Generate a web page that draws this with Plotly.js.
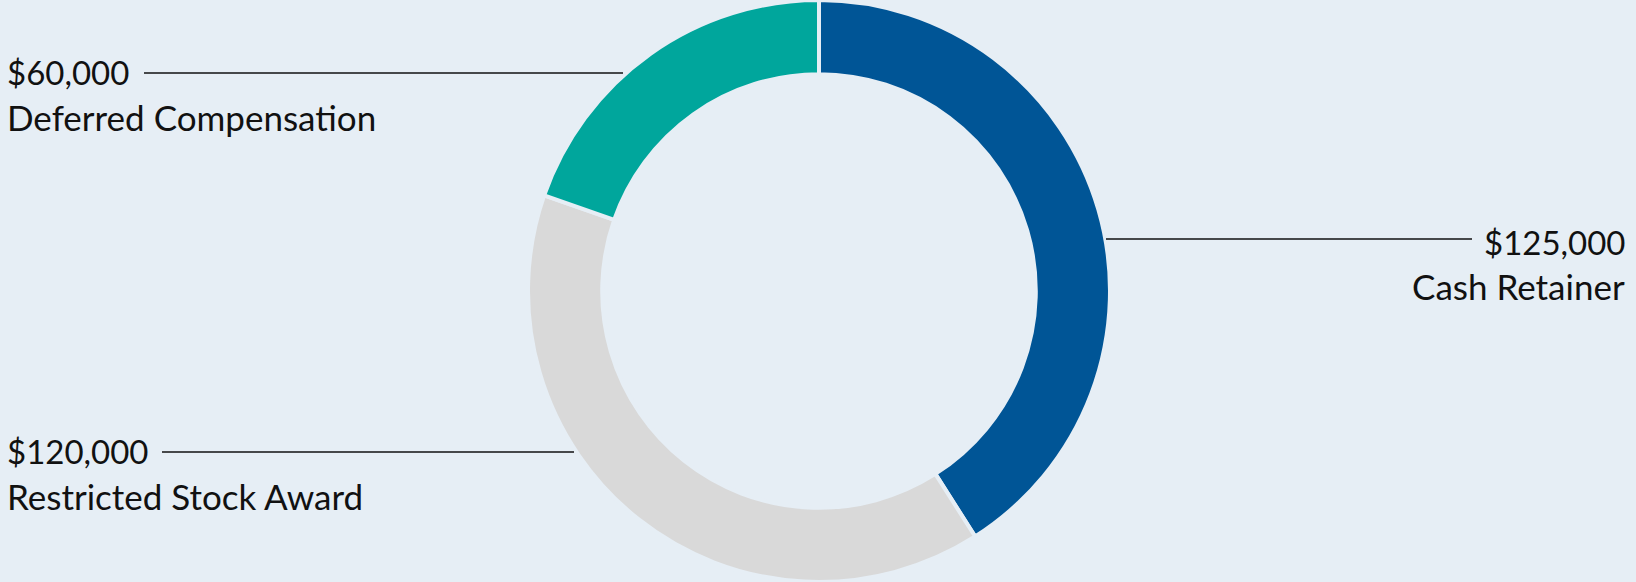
<!DOCTYPE html>
<html>
<head>
<meta charset="utf-8">
<script src="https://cdn.plot.ly/plotly-3.0.1.min.js"></script>
<style>html,body{margin:0;padding:0;background:#e6eef5;}#chart{width:1636px;height:582px;}</style>
</head>
<body>
<div id="chart"></div>
<script>
const categories = ["Cash Retainer", "Restricted Stock Award", "Deferred Compensation"];
const values = [125000, 120000, 60000];
const colors = ["#005596", "#d9d9d9", "#00a69c"];

const W = 1636, H = 582;
const fmt = v => "$" + v.toLocaleString("en-US");
const BG = "#e6eef5";
const LABEL_FONT = {family: "Lato, 'Noto Sans', sans-serif", size: 35, color: "#111111"};
const VALUE_FONT = {family: "Lato, 'Noto Sans', sans-serif", size: 33, color: "#111111"};

// label placement (pixel positions) per category
const place = {
  "Cash Retainer": {vy: 242, ly: 286, side: "right", x0: 1106, x1: 1472, lineY: 239},
  "Restricted Stock Award": {vy: 451, ly: 496, side: "left", x0: 162, x1: 574, lineY: 452},
  "Deferred Compensation": {vy: 72, ly: 117, side: "left", x0: 144, x1: 623, lineY: 73}
};

const px = x => x / W;
const py = y => 1 - y / H;

const annotations = [];
const shapes = [];
categories.forEach((c, i) => {
  const p = place[c];
  const isR = p.side === "right";
  const ax = isR ? px(1627) : px(5);
  annotations.push({text: fmt(values[i]), x: ax, y: py(p.vy), xref: "paper", yref: "paper",
    xanchor: isR ? "right" : "left", yanchor: "middle", showarrow: false, font: VALUE_FONT});
  annotations.push({text: c, x: ax, y: py(p.ly), xref: "paper", yref: "paper",
    xanchor: isR ? "right" : "left", yanchor: "middle", showarrow: false, font: LABEL_FONT});
  shapes.push({type: "line", xref: "paper", yref: "paper", x0: px(p.x0), x1: px(p.x1),
    y0: py(p.lineY), y1: py(p.lineY), line: {color: "#111111", width: 1.5}});
});

const cx = 819, cy = 291, r = 291;
const trace = {
  type: "pie",
  labels: categories,
  values: values,
  hole: 0.745,
  sort: false,
  direction: "clockwise",
  rotation: 0,
  textinfo: "none",
  hoverinfo: "label+value",
  marker: {colors: colors, line: {color: BG, width: 4}},
  domain: {x: [px(cx - r), px(cx + r)], y: [1 - (cy + r) / H, 1 - (cy - r) / H]}
};

Plotly.newPlot("chart", [trace], {
  width: W, height: H,
  margin: {l: 0, r: 0, t: 0, b: 0},
  paper_bgcolor: BG, plot_bgcolor: BG,
  showlegend: false,
  annotations: annotations,
  shapes: shapes
}, {displayModeBar: false, staticPlot: true});
</script>
</body>
</html>
